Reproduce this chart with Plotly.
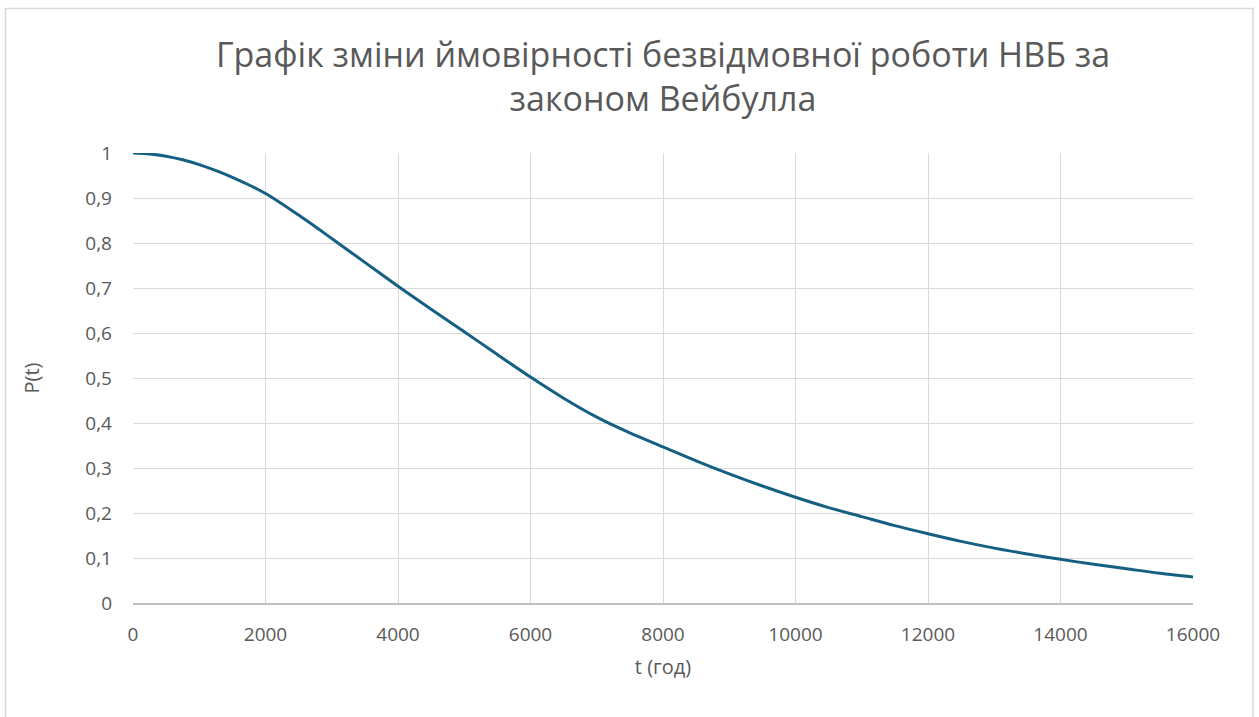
import plotly.graph_objects as go

t_hours = [0, 250, 500, 750, 1000, 1500, 2000, 2500, 3000, 3500, 4000, 4500, 5000, 5500,
           6000, 6500, 7000, 7500, 8000, 8500, 9000, 9500, 10000, 10500, 11000, 11500,
           12000, 12500, 13000, 13500, 14000, 14500, 15000, 15500, 16000]
p_values = [1.0, 0.998, 0.993, 0.985, 0.974, 0.946, 0.910, 0.862, 0.810, 0.757, 0.704, 0.653,
            0.603, 0.552, 0.502, 0.455, 0.413, 0.378, 0.347, 0.316, 0.287, 0.260, 0.235,
            0.212, 0.192, 0.172, 0.154, 0.137, 0.122, 0.109, 0.097, 0.086, 0.076, 0.066, 0.058]

x_tick_vals = [0, 2000, 4000, 6000, 8000, 10000, 12000, 14000, 16000]
x_tick_text = ["0", "2000", "4000", "6000", "8000", "10000", "12000", "14000", "16000"]
y_tick_vals = [0, 0.1, 0.2, 0.3, 0.4, 0.5, 0.6, 0.7, 0.8, 0.9, 1]
y_tick_text = ["0", "0,1", "0,2", "0,3", "0,4", "0,5", "0,6", "0,7", "0,8", "0,9", "1"]

title_text = "Графік зміни ймовірності безвідмовної роботи НВБ за<br>законом Вейбулла"
x_title = "t (год)"
y_title = "P(t)"

FONT = "Open Sans"
TXT = "#595959"

fig = go.Figure()
fig.add_trace(go.Scatter(
    x=t_hours, y=p_values, mode="lines",
    line=dict(color="#156082", width=3, shape="spline", smoothing=0.8),
    showlegend=False, hoverinfo="x+y",
))

fig.update_layout(
    width=1259, height=717,
    paper_bgcolor="white", plot_bgcolor="white",
    margin=dict(l=133, r=66, t=153, b=114),
    font=dict(family=FONT, color=TXT),
    title=dict(text=title_text, x=0.5, xanchor="center", xref="paper",
               y=(717 - 67) / 717, yanchor="middle", yref="container",
               font=dict(family=FONT, size=34, color=TXT)),
    xaxis=dict(range=[0, 16000], tickvals=x_tick_vals, ticktext=x_tick_text,
               showgrid=True, gridcolor="#d9d9d9", gridwidth=1,
               showline=True, linecolor="#bfbfbf", linewidth=1.5,
               zeroline=False, ticks="", tickfont=dict(size=19, color=TXT),
               ticklabelstandoff=13,
               title=dict(text=x_title, font=dict(size=20, color=TXT), standoff=14),
               fixedrange=True),
    yaxis=dict(range=[0, 1], tickvals=y_tick_vals, ticktext=y_tick_text,
               showgrid=True, gridcolor="#d9d9d9", gridwidth=1,
               zeroline=False, showline=False, ticks="",
               tickfont=dict(size=19, color=TXT), ticklabelstandoff=20,
               title=dict(text=y_title, font=dict(size=20, color=TXT), standoff=40),
               fixedrange=True),
    shapes=[dict(type="rect", xref="paper", yref="paper",
                 x0=(5.5 - 133) / 1060, x1=(1253 - 133) / 1060,
                 y0=(603 - 730) / 450, y1=(603 - 8.5) / 450,
                 line=dict(color="#d9d9d9", width=1.5), layer="below")],
)

fig.write_html("out.html", config={"displayModeBar": False},
               post_script="document.body.style.margin='0';")
